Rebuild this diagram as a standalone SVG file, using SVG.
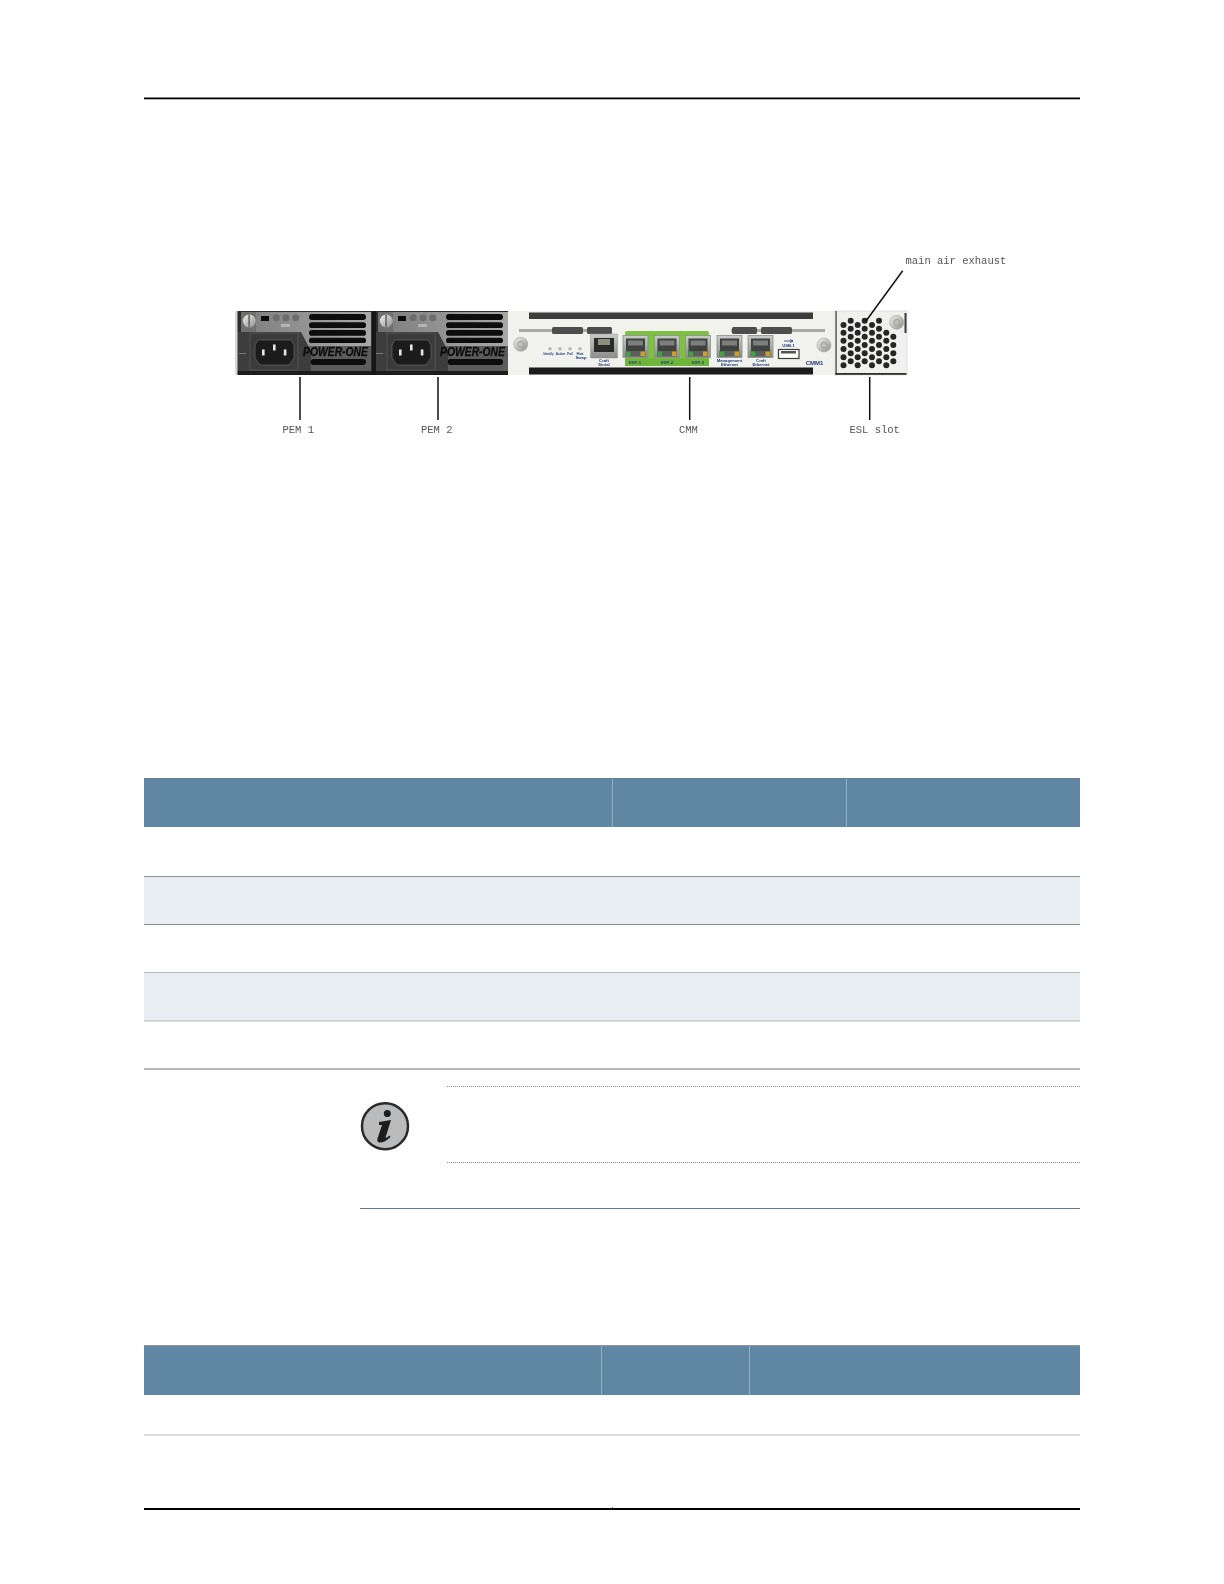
<svg xmlns="http://www.w3.org/2000/svg" width="1224" height="1584" viewBox="0 0 1224 1584">
<style>
.label{font-family:"Liberation Mono","DejaVu Sans Mono",monospace;font-size:10.5px;fill:#555}
.tiny{font-family:"Liberation Sans",Arial,sans-serif;font-size:4.2px;font-weight:700;fill:#1f3a78;text-anchor:middle}
.brand{font-family:"Liberation Sans",Arial,sans-serif;font-size:13px;font-weight:700;font-style:italic;fill:#0c0c0c;stroke:#0c0c0c;stroke-width:.3}
.lead{stroke:#111;stroke-width:1.5;fill:none}
.hdr{fill:#5f86a2}
.div{stroke:#8fb0c8;stroke-width:1}
.rule{stroke:#8d9192;stroke-width:1;fill:none}
.band{fill:#e9eef3}
.vent{fill:#0b0b0b}
.hole{fill:#262626}
.dots{stroke:#8a8f90;stroke-width:1;stroke-dasharray:1 1;fill:none}
.soft{filter:url(#soft)}
</style>
<defs>
<filter id="soft" x="-5%" y="-5%" width="110%" height="110%"><feGaussianBlur stdDeviation="0.4"/></filter>
<linearGradient id="screw" x1="0" y1="0" x2="1" y2="1"><stop offset="0" stop-color="#f0f0ee"/><stop offset="1" stop-color="#8f918c"/></linearGradient>
<linearGradient id="portG" x1="0" y1="0" x2="0" y2="1"><stop offset="0" stop-color="#c9cbc8"/><stop offset="1" stop-color="#8b8d8a"/></linearGradient>
<linearGradient id="pemTop" x1="0" y1="0" x2="1" y2="0"><stop offset="0" stop-color="#7d7d7d"/><stop offset="1" stop-color="#a8a8a8"/></linearGradient>
<g id="port">
<rect x="0" y="0" width="25" height="22" fill="url(#portG)" stroke="#8d8f8c" stroke-width=".8"/>
<rect x="3" y="3" width="19" height="13" fill="#3f4240"/>
<rect x="5" y="5" width="15" height="5" fill="#7c7f7c"/>
<rect x="2.5" y="15.500" width="20" height="5.500" fill="#5b5d5b"/>
<rect x="3" y="16" width="4.500" height="4.500" fill="#3fa33f"/>
<rect x="17.500" y="16" width="4.500" height="4.500" fill="#c9a02c"/>
</g>
<g id="screwHead">
<circle r="7" fill="url(#screw)" stroke="#a3a59f" stroke-width=".6"/>
<circle r="3" fill="#bdbfba" stroke="#8d8f8a" stroke-width=".6"/>
</g>
<g id="pemBody">
<rect x="0" y="0" width="137" height="64" fill="#2e2e2e"/>
<rect x="6" y="1" width="130" height="34" fill="url(#pemTop)"/>
<path d="M69 35H136V60H72Z" fill="#5c5c5c"/>
<path d="M0 21H66L76 40V64H0Z" fill="#3c3c3c"/>
<rect x="0" y="60" width="137" height="4" fill="#1d1d1d"/>
<rect x="6" y="1" width="15" height="20" fill="#6f6f6f"/>
<circle cx="14.300" cy="10" r="6.500" fill="url(#screw)"/>
<rect x="13.300" y="3.700" width="1.600" height="12.600" fill="#666"/>
<rect x="26" y="5" width="8" height="5" fill="#0c0c0c"/>
<circle cx="41.300" cy="6.700" r="3.500" fill="#6d6d6d"/>
<circle cx="51" cy="6.700" r="3.500" fill="#6d6d6d"/>
<circle cx="60.700" cy="6.700" r="3.500" fill="#6d6d6d"/>
<rect x="46" y="13" width="9" height="3" fill="#c4c4c4" opacity=".7"/>
<rect class="vent" x="74" y="3" width="57" height="6" rx="3"/>
<rect class="vent" x="74" y="11.300" width="57" height="5.700" rx="2.800"/>
<rect class="vent" x="74" y="19" width="57" height="5.700" rx="2.800"/>
<rect class="vent" x="74" y="26.700" width="57" height="5.300" rx="2.600"/>
<rect class="vent" x="75.700" y="48" width="55.300" height="6" rx="3"/>
<rect x="15" y="22" width="48" height="37" fill="#3a3a3a" stroke="#5e5e5e" stroke-width=".7"/>
<path d="M23 29H56L59 34V47L54 54H25L20 47V34Z" fill="#1c1c1c" stroke="#808080" stroke-width=".5"/>
<rect x="27" y="38.500" width="2.600" height="6" fill="#e6e6e6"/>
<rect x="38" y="33.500" width="2.600" height="6" fill="#e6e6e6"/>
<rect x="48.800" y="38.500" width="2.600" height="6" fill="#e6e6e6"/>
<rect x="4" y="42" width="7" height="1" fill="#777"/>
</g>
</defs>

<rect width="1224" height="1584" fill="#fff"/>

<g id="page-rules">
<rect x="144" y="97.500" width="936" height="1.800" fill="#000"/>
<rect x="144" y="1508" width="936" height="2" fill="#000"/>
<rect x="612" y="1507" width="1" height="1" fill="#777"/>
</g>

<g class="soft">
<g id="pem-1">
<use href="#pemBody" x="235" y="311"/>
<rect x="235" y="311" width="2.500" height="64" fill="#d8d8d8"/>
<text class="brand" x="303" y="356" textLength="65" lengthAdjust="spacingAndGlyphs">POWER-ONE</text>
</g>
<g id="pem-2">
<use href="#pemBody" x="372" y="311"/>
<rect x="372" y="311" width="4" height="64" fill="#151515"/>
<text class="brand" x="440" y="356" textLength="65" lengthAdjust="spacingAndGlyphs">POWER-ONE</text>
</g>

<g id="cmm">
<rect x="508" y="311" width="327" height="64" fill="#f1f2ee"/>
<rect x="529" y="312.500" width="284" height="6.500" fill="#3c3c3c"/>
<rect x="529" y="367.500" width="284" height="7" fill="#1a1a1a"/>
<rect x="519" y="329" width="306" height="3" fill="#a9aaa6"/>
<rect x="590" y="329" width="141" height="3" fill="#f1f2ee"/>
<rect x="552" y="327" width="31" height="7" rx="1.500" fill="#4d4d4d"/>
<rect x="587" y="327" width="25" height="7" rx="1.500" fill="#4d4d4d"/>
<rect x="732" y="327" width="25" height="7" rx="1.500" fill="#4d4d4d"/>
<rect x="761" y="327" width="31" height="7" rx="1.500" fill="#4d4d4d"/>
<use href="#screwHead" x="520.700" y="344.300"/>
<use href="#screwHead" x="824" y="345"/>
<g fill="#b4b8b4"><circle cx="550" cy="348.700" r="1.800"/><circle cx="560" cy="348.700" r="1.800"/><circle cx="570" cy="348.700" r="1.800"/><circle cx="580" cy="348.700" r="1.800"/></g>
<text class="tiny" x="548.500" y="355" textLength="10" lengthAdjust="spacingAndGlyphs">Identify</text>
<text class="tiny" x="560.500" y="355" textLength="9.500" lengthAdjust="spacingAndGlyphs">Active</text>
<text class="tiny" x="570" y="355" textLength="5.500" lengthAdjust="spacingAndGlyphs">Fail</text>
<text class="tiny" x="580" y="354.500">Hot</text>
<text class="tiny" x="581" y="358.500">Swap</text>
<rect x="590.500" y="334" width="27" height="24" fill="url(#portG)" stroke="#9a9c98" stroke-width=".6"/>
<rect x="594" y="338" width="20" height="14" fill="#2c2c2c"/>
<rect x="598" y="339" width="12" height="6" fill="#8e8e7c"/>
<text class="tiny" x="604" y="361.500">Craft</text>
<text class="tiny" x="604" y="365.500">Serial</text>
<path d="M627 331H707Q709 331 709 333V366H625V333Q625 331 627 331Z" fill="#7ec03f"/>
<rect x="625" y="358.500" width="84" height="7.500" fill="#6fb53a"/>
<use href="#port" x="623" y="335.500"/>
<use href="#port" x="654.500" y="335.500"/>
<use href="#port" x="685.500" y="335.500"/>
<use href="#port" x="717" y="335.500"/>
<use href="#port" x="748" y="335.500"/>
<text class="tiny" x="635" y="363.500">EXP-1</text>
<text class="tiny" x="667" y="363.500">EXP-2</text>
<text class="tiny" x="698" y="363.500">EXP-3</text>
<text class="tiny" x="729.500" y="361.500">Management</text>
<text class="tiny" x="729.500" y="365.500">Ethernet</text>
<text class="tiny" x="761" y="361.500">Craft</text>
<text class="tiny" x="761" y="365.500">Ethernet</text>
<path d="M784 341H793M790 339.500L793 341L790 342.500" stroke="#1f3a78" stroke-width=".8" fill="none"/>
<text class="tiny" x="788.500" y="347">USB-1</text>
<rect x="778.500" y="349.500" width="20.500" height="9" fill="#fff" stroke="#3a3a3a" stroke-width="1.200"/>
<rect x="781" y="351" width="15" height="2.500" fill="#555"/>
<text x="814.500" y="365" font-family="'Liberation Sans',Arial,sans-serif" font-size="6" font-weight="700" fill="#1f3a78" text-anchor="middle">CMM1</text>
</g>

<g id="esl">
<rect x="835" y="311" width="72" height="64" fill="#f0f0ee" stroke="#cfcfcf" stroke-width=".6"/>
<rect x="835.500" y="311" width="1.200" height="64" fill="#3a3a3a"/>
<rect x="835.500" y="373" width="71" height="1.800" fill="#2d2d2d"/>
<rect x="904.500" y="313" width="2" height="20" fill="#3a3a3a"/>
<g class="hole">
<circle cx="843.500" cy="325" r="3"/><circle cx="843.500" cy="332.700" r="3"/><circle cx="843.500" cy="340.700" r="3"/><circle cx="843.500" cy="349" r="3"/><circle cx="843.500" cy="357.300" r="3"/><circle cx="843.500" cy="365.300" r="3"/>
<circle cx="850.700" cy="320.700" r="3"/><circle cx="850.700" cy="328.700" r="3"/><circle cx="850.700" cy="336.700" r="3"/><circle cx="850.700" cy="345" r="3"/><circle cx="850.700" cy="353.300" r="3"/><circle cx="850.700" cy="361.300" r="3"/>
<circle cx="857.700" cy="325" r="3"/><circle cx="857.700" cy="332.700" r="3"/><circle cx="857.700" cy="340.700" r="3"/><circle cx="857.700" cy="349" r="3"/><circle cx="857.700" cy="357.300" r="3"/><circle cx="857.700" cy="365.300" r="3"/>
<circle cx="864.700" cy="320.700" r="3"/><circle cx="864.700" cy="328.700" r="3"/><circle cx="864.700" cy="336.700" r="3"/><circle cx="864.700" cy="345" r="3"/><circle cx="864.700" cy="353.300" r="3"/><circle cx="864.700" cy="361.300" r="3"/>
<circle cx="872" cy="325" r="3"/><circle cx="872" cy="332.700" r="3"/><circle cx="872" cy="340.700" r="3"/><circle cx="872" cy="349" r="3"/><circle cx="872" cy="357.300" r="3"/><circle cx="872" cy="365.300" r="3"/>
<circle cx="879" cy="320.700" r="3"/><circle cx="879" cy="328.700" r="3"/><circle cx="879" cy="336.700" r="3"/><circle cx="879" cy="345" r="3"/><circle cx="879" cy="353.300" r="3"/><circle cx="879" cy="361.300" r="3"/>
<circle cx="886.300" cy="332.700" r="3"/><circle cx="886.300" cy="340.700" r="3"/><circle cx="886.300" cy="349" r="3"/><circle cx="886.300" cy="357.300" r="3"/><circle cx="886.300" cy="365.300" r="3"/>
<circle cx="893.300" cy="336.700" r="3"/><circle cx="893.300" cy="345" r="3"/><circle cx="893.300" cy="353.300" r="3"/><circle cx="893.300" cy="361.300" r="3"/>
</g>
<use href="#screwHead" x="896.700" y="322.300"/>
</g>
</g>

<g id="connectors">
<path class="lead" d="M300 377V420"/>
<path class="lead" d="M438 377V420"/>
<path class="lead" d="M689.700 377V420"/>
<path class="lead" d="M869.700 377V420"/>
<path class="lead" d="M902.700 270.700L866 321"/>
</g>

<g id="labels">
<text class="label" x="905.500" y="264">main air exhaust</text>
<text class="label" x="282.500" y="433">PEM 1</text>
<text class="label" x="421" y="433">PEM 2</text>
<text class="label" x="679" y="433">CMM</text>
<text class="label" x="849.500" y="432.500">ESL slot</text>
</g>

<g id="table-1">
<rect class="hdr" x="144" y="778" width="936" height="49"/>
<rect x="144" y="778" width="936" height="1" fill="#6f7f8a"/>
<path class="div" d="M612.500 779V827M846.500 779V827"/>
<rect class="band" x="144" y="876" width="936" height="48"/>
<rect class="band" x="144" y="972" width="936" height="49"/>
<path class="rule" d="M144 876.500H1080M144 924.500H1080"/>
<path style="stroke:#b5b9ba;stroke-width:1;fill:none" d="M144 972.500H1080M144 1021H1080"/>
<path style="stroke:#9c9fa0;stroke-width:1.500;fill:none" d="M144 1069H1080"/>
</g>

<g id="note">
<path class="dots" d="M447 1086.500H1080M447 1162.500H1080"/>
<path d="M360 1208.500H1080" stroke="#5d7b92" stroke-width="1" fill="none"/>
<circle cx="385" cy="1126.200" r="23" fill="#b9bbbc" stroke="#2a2a2a" stroke-width="2.500"/>
<circle cx="387.300" cy="1113.500" r="3.500" fill="#1d1d1d"/>
<path d="M379 1122L391 1120L386 1136Q385 1138.500 387 1137.500L389.500 1135.500L390.500 1137Q385 1142.500 380 1142.500Q376.500 1142.500 377.500 1138.500L382 1125L379 1125Z" fill="#1d1d1d"/>
</g>

<g id="table-2">
<rect class="hdr" x="144" y="1345" width="936" height="50"/>
<rect x="144" y="1345" width="936" height="1.200" fill="#8b969e"/>
<path class="div" d="M601.500 1346V1395M749.500 1346V1395"/>
<path d="M144 1435H1080" stroke="#cfd2d3" stroke-width="1.500" fill="none"/>
</g>
</svg>
